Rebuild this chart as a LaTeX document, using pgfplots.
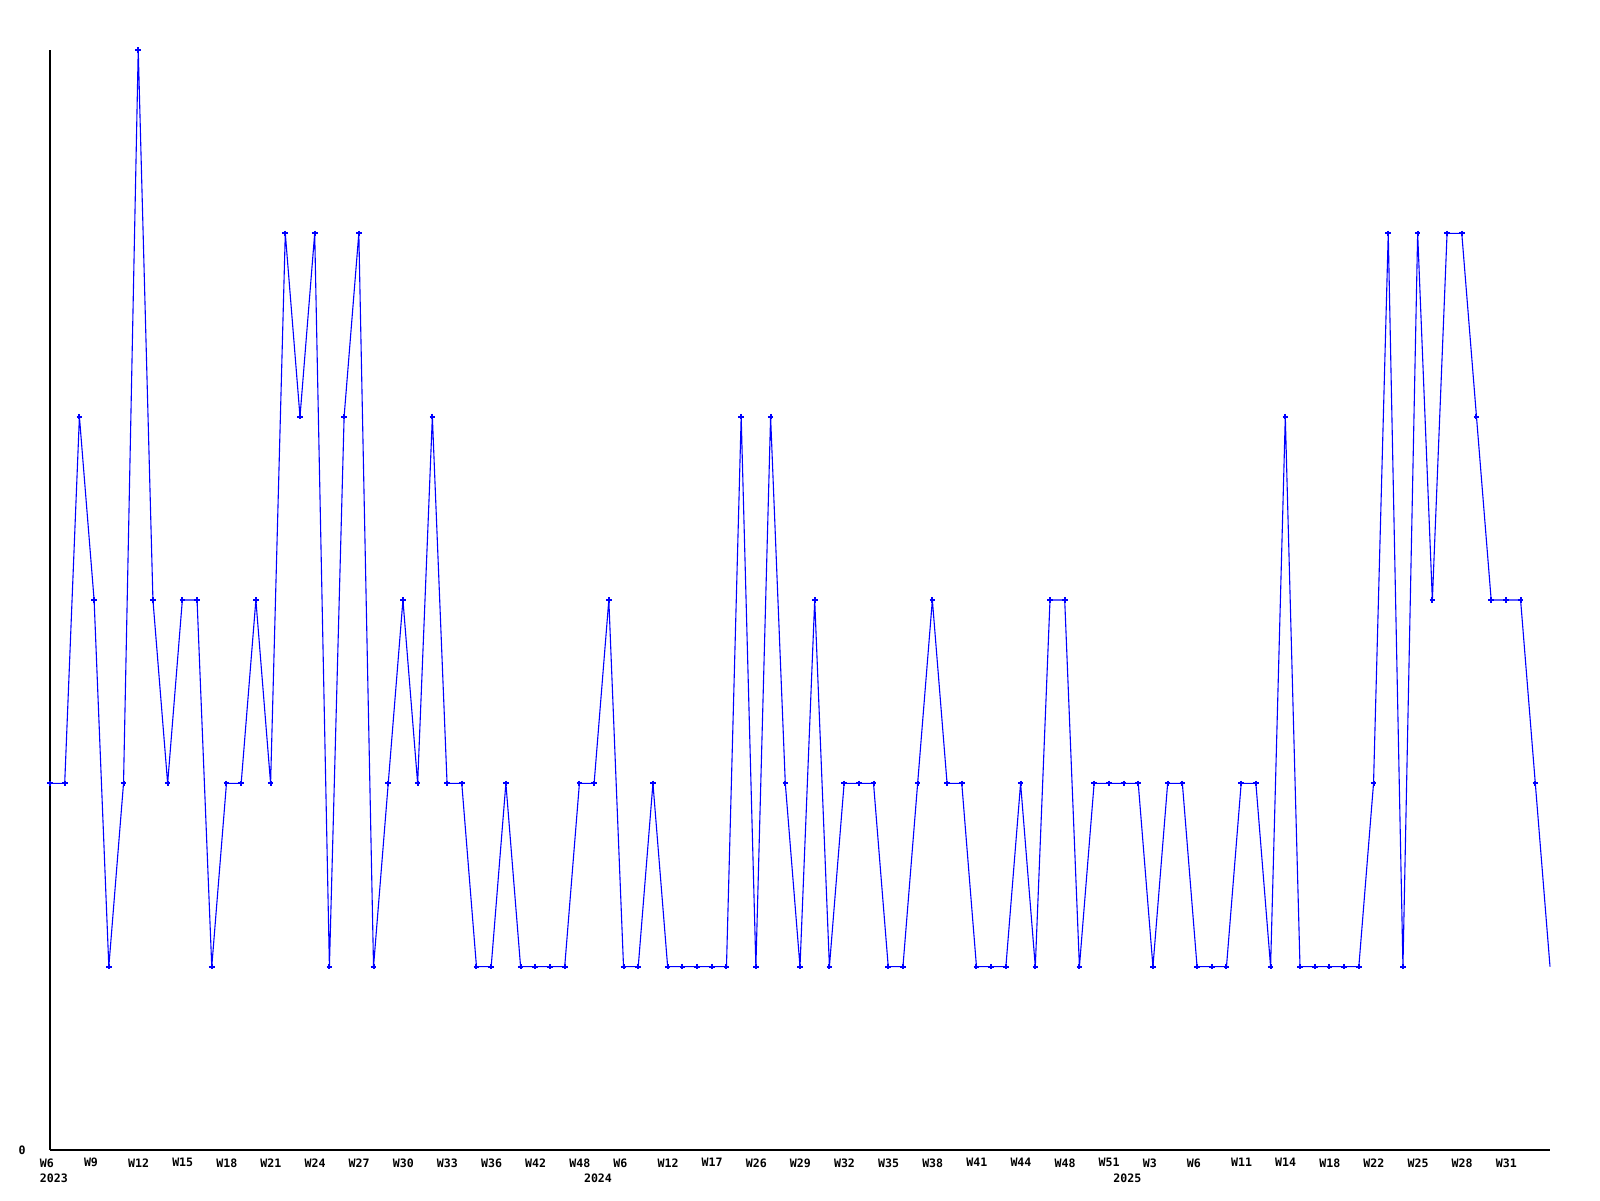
\documentclass[border=0pt]{standalone}
\usepackage{pgfplots}
\pgfplotsset{compat=1.18}
\usepackage{pgfplotstable}
\usepackage{fontspec}
\setmonofont{DejaVu Sans Mono}
\newcommand{\lbl}{\fontsize{5.8}{7}\selectfont\ttfamily\bfseries}
\pgfplotstableread{
x y
0 2
1 2
2 4
3 3
4 1
5 2
6 6
7 3
8 2
9 3
10 3
11 1
12 2
13 2
14 3
15 2
16 5
17 4
18 5
19 1
20 4
21 5
22 1
23 2
24 3
25 2
26 4
27 2
28 2
29 1
30 1
31 2
32 1
33 1
34 1
35 1
36 2
37 2
38 3
39 1
40 1
41 2
42 1
43 1
44 1
45 1
46 1
47 4
48 1
49 4
50 2
51 1
52 3
53 1
54 2
55 2
56 2
57 1
58 1
59 2
60 3
61 2
62 2
63 1
64 1
65 1
66 2
67 1
68 3
69 3
70 1
71 2
72 2
73 2
74 2
75 1
76 2
77 2
78 1
79 1
80 1
81 2
82 2
83 1
84 4
85 1
86 1
87 1
88 1
89 1
90 2
91 5
92 1
93 5
94 3
95 5
96 5
97 4
98 3
99 3
100 3
101 2
102 1
}\data
\begin{document}
\begin{tikzpicture}
\path[use as bounding box] (0,0) rectangle (800pt,600pt);
\begin{axis}[
  at={(25pt,25pt)}, anchor=south west,
  scale only axis, width=750pt, height=550pt,
  xmin=0, xmax=102, ymin=0, ymax=6,
  axis x line=bottom, axis y line=left,
  axis line style={-, black, line width=0.6pt},
  clip=false,
  major tick length=0pt,
  xtick={0,3,...,99},
  xticklabels={W6,W9,W12,W15,W18,W21,W24,W27,W30,W33,W36,W42,W48,W6,W12,W17,W26,W29,W32,W35,W38,W41,W44,W48,W51,W3,W6,W11,W14,W18,W22,W25,W28,W31},
  xticklabel style={anchor=north west, inner sep=0pt, xshift=-5.25pt, yshift=-4pt, font=\lbl},
  ytick={0}, yticklabels={0},
  yticklabel style={anchor=east, inner sep=0pt, xshift=-12pt, font=\lbl},
]
\addplot[blue, line width=0.55pt, mark=+, mark size=1.4pt, mark options={line width=1pt}, mark indices={1,...,102}] table[x=x, y=y] {\data};
\node[anchor=north west, inner sep=0pt, font=\lbl, xshift=-5.25pt, yshift=-11.5pt] at (axis cs:0,0) {2023};
\node[anchor=north west, inner sep=0pt, font=\lbl, xshift=-5.25pt, yshift=-11.5pt] at (axis cs:37,0) {2024};
\node[anchor=north west, inner sep=0pt, font=\lbl, xshift=-5.25pt, yshift=-11.5pt] at (axis cs:73,0) {2025};
\end{axis}
\end{tikzpicture}
\end{document}
